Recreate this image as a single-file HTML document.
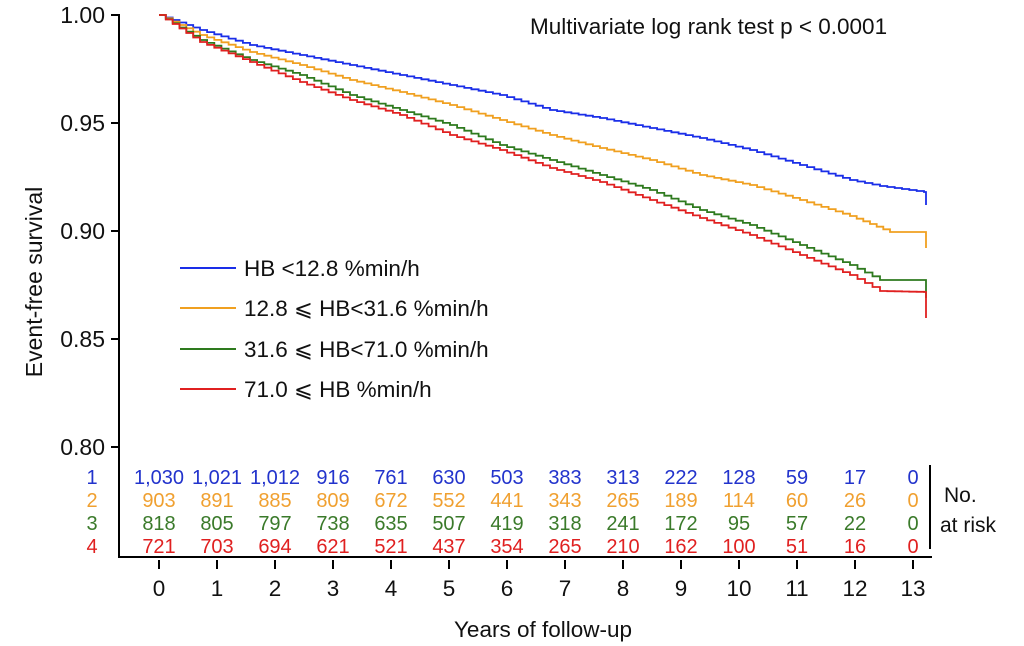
<!DOCTYPE html>
<html><head><meta charset="utf-8"><style>
body{margin:0;background:#fff;}
svg{display:block;font-family:"Liberation Sans",sans-serif;}
</style></head><body>
<svg id="s" width="1024" height="646" viewBox="0 0 1024 646" xmlns="http://www.w3.org/2000/svg">
<g stroke="#000" stroke-width="2" fill="none">
<path d="M119,14 V557 H932"/>
<path d="M111,15 H119 M111,123 H119 M111,231 H119 M111,339 H119 M111,447 H119"/>
<path d="M930,465 V549"/>
</g>
<g id="xt" stroke="#000" stroke-width="2"></g>
<g font-size="23" fill="#111" text-anchor="end">
<text x="105" y="23">1.00</text><text x="105" y="131">0.95</text><text x="105" y="239">0.90</text><text x="105" y="347">0.85</text><text x="105" y="455">0.80</text>
</g>
<text x="0" y="0" font-size="23" fill="#111" text-anchor="middle" transform="translate(42,282) rotate(-90)">Event-free survival</text>
<text x="543" y="637" font-size="22.5" fill="#111" text-anchor="middle">Years of follow-up</text>
<text x="530" y="34" font-size="22.5" fill="#111">Multivariate log rank test p &lt; 0.0001</text>
<g id="xl" font-size="22.5" fill="#111" text-anchor="middle"></g>
<g font-size="21" fill="#111"><text x="944" y="502">No.</text><text x="940" y="532">at risk</text></g>
<g font-size="20" text-anchor="middle">
<text x="92" y="484" fill="#2233cc">1</text><text x="92" y="507" fill="#f0a030">2</text><text x="92" y="530" fill="#3a7a2a">3</text><text x="92" y="553" fill="#e02020">4</text>
</g>
<g id="risk" font-size="20" text-anchor="middle"></g>
<g stroke-width="2">
<line x1="180" y1="268" x2="236" y2="268" stroke="#1a2ee8"/>
<line x1="180" y1="308" x2="236" y2="308" stroke="#f0a020"/>
<line x1="180" y1="349" x2="236" y2="349" stroke="#2e7a1e"/>
<line x1="180" y1="389" x2="236" y2="389" stroke="#e02020"/>
</g>
<g font-size="22.5" fill="#111">
<text x="244" y="276">HB &lt;12.8 %min/h</text>
<text x="244" y="316">12.8 ⩽ HB&lt;31.6 %min/h</text>
<text x="244" y="357">31.6 ⩽ HB&lt;71.0 %min/h</text>
<text x="244" y="397">71.0 ⩽ HB %min/h</text>
</g>
<g id="curves" fill="none" stroke-width="1.8"></g>
</svg>
<script>
var NS="http://www.w3.org/2000/svg";
function el(p,t,a,txt){var e=document.createElementNS(NS,t);for(var k in a)e.setAttribute(k,a[k]);if(txt!=null)e.textContent=txt;p.appendChild(e);return e;}
var xt=document.getElementById('xt'),xl=document.getElementById('xl');
function X(y){return 159+y*58;}
for(var i=0;i<=13;i++){el(xt,'line',{x1:X(i),x2:X(i),y1:560,y2:569});el(xl,'text',{x:X(i),y:596},i);}
var R=[["1,030","1,021","1,012","916","761","630","503","383","313","222","128","59","17","0"],
["903","891","885","809","672","552","441","343","265","189","114","60","26","0"],
["818","805","797","738","635","507","419","318","241","172","95","57","22","0"],
["721","703","694","621","521","437","354","265","210","162","100","51","16","0"]];
var C=["#2233cc","#f0a030","#3a7a2a","#e02020"],ys=[484,507,530,553];
var rg=document.getElementById('risk');
R.forEach(function(r,j){r.forEach(function(v,i){el(rg,'text',{x:X(i),y:ys[j],fill:C[j]},v);});});
var K=[
[[159,15],[200,30],[250,45],[300,55],[350,65],[400,75],[450,85],[500,95],[550,110],[600,118],[650,128],[700,138],[750,150],[800,165],[850,180],[880,186],[924,192]],
[[159,15],[200,35],[250,52],[300,65],[350,80],[400,92],[450,105],[500,120],[550,135],[600,148],[650,160],[700,175],[750,185],[800,200],[850,216],[890,232],[924,232]],
[[159,15],[200,40],[250,60],[300,75],[350,95],[400,110],[450,125],[500,145],[550,160],[600,175],[650,190],[700,210],[750,225],[800,245],[850,265],[880,280],[924,280]],
[[159,15],[200,42],[250,62],[300,82],[350,100],[400,115],[450,135],[500,150],[550,168],[600,182],[650,200],[700,218],[750,235],[800,255],[850,275],[880,291],[924,292]]];
var ends=[205,248,298,318],LC=["#1a2ee8","#f0a020","#2e7a1e","#e02020"];
var cg=document.getElementById('curves');
K.forEach(function(k,j){
 var d="M159,15";
 for(var i=1;i<k.length;i++){var a=k[i-1],b=k[i];var n=Math.max(1,Math.round((b[0]-a[0])/7));
  for(var s=1;s<=n;s++){var nx=a[0]+(b[0]-a[0])*s/n,ny=a[1]+(b[1]-a[1])*s/n;d+=" H"+nx.toFixed(1)+" V"+ny.toFixed(1);}}
 d+=" H926 V"+ends[j];
 el(cg,'path',{d:d,stroke:LC[j]});
});
</script>
</body></html>
